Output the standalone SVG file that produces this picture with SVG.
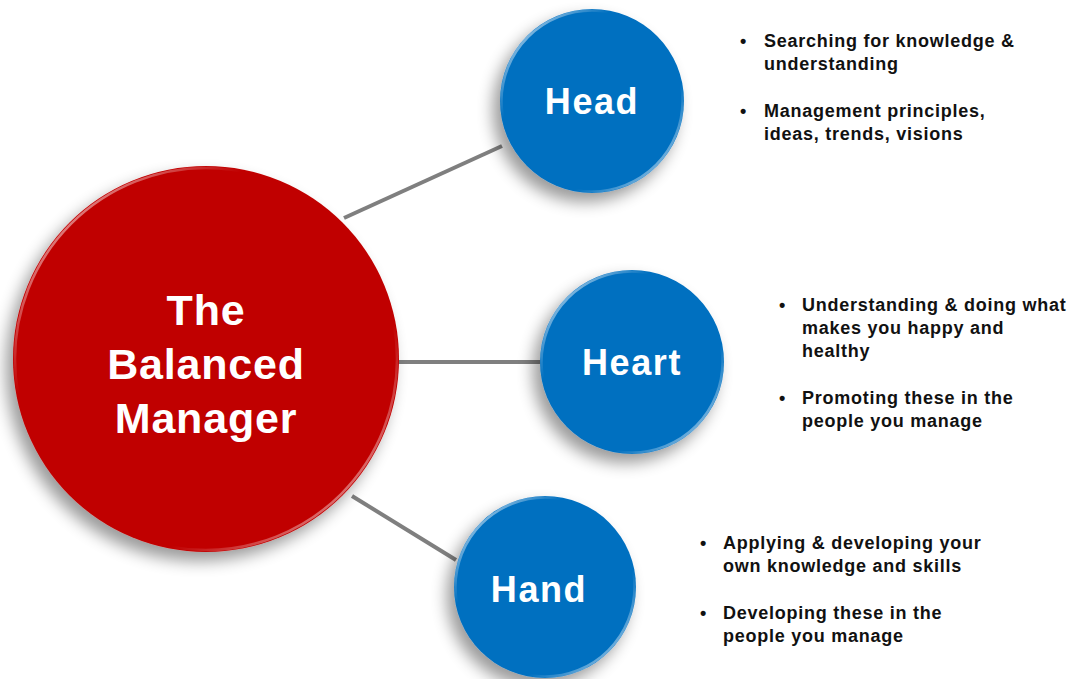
<svg xmlns="http://www.w3.org/2000/svg" width="1080" height="679" viewBox="0 0 1080 679">
  <defs>
    <filter id="shadow" x="-30%" y="-30%" width="160%" height="160%">
      <feGaussianBlur in="SourceAlpha" stdDeviation="8"/>
      <feOffset dx="-7" dy="9" result="b"/>
      <feComponentTransfer><feFuncA type="linear" slope="0.4"/></feComponentTransfer>
      <feMerge><feMergeNode/><feMergeNode in="SourceGraphic"/></feMerge>
    </filter>
    <!-- glossy rim: bright at upper-left and lower-right -->
    <linearGradient id="rim" x1="0" y1="0" x2="1" y2="1">
      <stop offset="0" stop-color="#ffffff" stop-opacity="0.9"/>
      <stop offset="0.3" stop-color="#ffffff" stop-opacity="0"/>
      <stop offset="0.7" stop-color="#ffffff" stop-opacity="0"/>
      <stop offset="1" stop-color="#ffffff" stop-opacity="0.8"/>
    </linearGradient>
  </defs>
  <style>
    .conn { stroke: #7f7f7f; stroke-width: 4; }
    .red { fill: #c00000; }
    .blue { fill: #0070c0; }
    .rim { fill: none; stroke: url(#rim); stroke-width: 2.5; }
    .label { font-family: "Liberation Sans", Arial, sans-serif; font-weight: bold; fill: #ffffff; text-anchor: middle; }
    .big { font-size: 43px; letter-spacing: 0.8px; }
    .mid { font-size: 36px; letter-spacing: 1.6px; }
    .note { font-family: "Liberation Sans", Arial, sans-serif; font-weight: bold; font-size: 18px; letter-spacing: 0.75px; fill: #111111; }
  </style>

  <g id="connectors">
    <line class="conn" x1="344" y1="218" x2="502" y2="146"/>
    <line class="conn" x1="398" y1="362" x2="541" y2="362"/>
    <line class="conn" x1="352" y1="496" x2="456" y2="560"/>
  </g>

  <g id="balanced-manager">
    <circle class="red" cx="206" cy="359" r="193" filter="url(#shadow)"/>
    <circle class="rim" cx="206" cy="359" r="191"/>
    <text class="label big" x="206" y="325">The</text>
    <text class="label big" x="206" y="379">Balanced</text>
    <text class="label big" x="206" y="433">Manager</text>
  </g>

  <g id="head">
    <circle class="blue" cx="592" cy="101" r="92" filter="url(#shadow)"/>
    <circle class="rim" cx="592" cy="101" r="90.5"/>
    <text class="label mid" x="592" y="114">Head</text>
  </g>

  <g id="heart">
    <circle class="blue" cx="632" cy="362" r="92" filter="url(#shadow)"/>
    <circle class="rim" cx="632" cy="362" r="90.5"/>
    <text class="label mid" x="632" y="375">Heart</text>
  </g>

  <g id="hand">
    <circle class="blue" cx="545" cy="587" r="91" filter="url(#shadow)"/>
    <circle class="rim" cx="545" cy="587" r="89.5"/>
    <text class="label mid" x="539" y="602">Hand</text>
  </g>

  <g id="head-notes" class="note">
    <text x="740" y="47">•</text>
    <text x="764" y="47">Searching for knowledge &amp;</text>
    <text x="764" y="70">understanding</text>
    <text x="740" y="117">•</text>
    <text x="764" y="117">Management principles,</text>
    <text x="764" y="140">ideas, trends, visions</text>
  </g>

  <g id="heart-notes" class="note">
    <text x="779" y="311">•</text>
    <text x="802" y="311">Understanding &amp; doing what</text>
    <text x="802" y="334">makes you happy and</text>
    <text x="802" y="357">healthy</text>
    <text x="779" y="404">•</text>
    <text x="802" y="404">Promoting these in the</text>
    <text x="802" y="427">people you manage</text>
  </g>

  <g id="hand-notes" class="note">
    <text x="700" y="549">•</text>
    <text x="723" y="549">Applying &amp; developing your</text>
    <text x="723" y="572">own knowledge and skills</text>
    <text x="700" y="619">•</text>
    <text x="723" y="619">Developing these in the</text>
    <text x="723" y="642">people you manage</text>
  </g>
</svg>
